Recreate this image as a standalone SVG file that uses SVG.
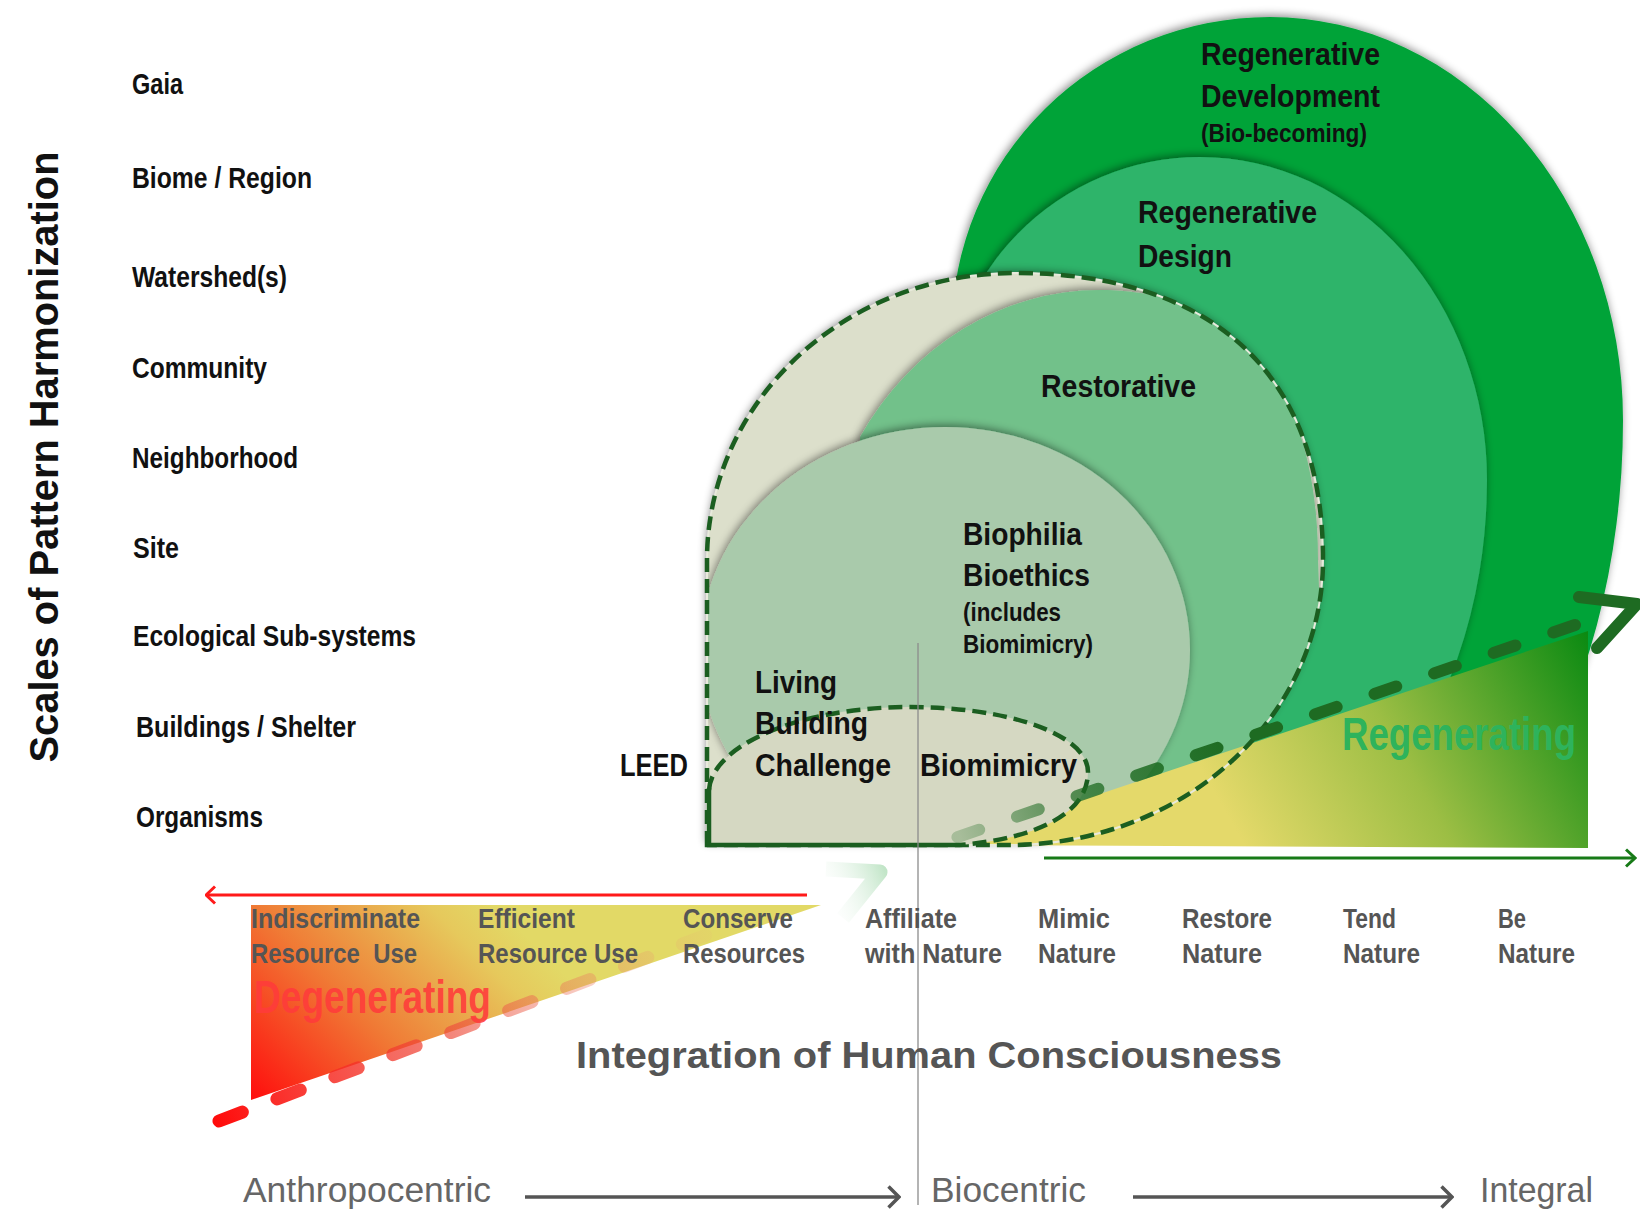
<svg xmlns="http://www.w3.org/2000/svg" width="1640" height="1210" viewBox="0 0 1640 1210">
<defs>
<style>
.lab{font-family:"Liberation Sans",Arial,sans-serif;font-weight:bold;fill:#111}
.row{font-size:30px}
.big{font-size:32px}
.sub{font-size:25px}
.axis{font-size:28px;fill:#555}
.dash{fill:none;stroke:#1b5e20;stroke-width:4.5;stroke-dasharray:14 7}
.solid{fill:none;stroke:#1b5e20;stroke-width:4.5}
.gray{font-family:"Liberation Sans",Arial,sans-serif;fill:#666;font-size:35px}
</style>
<filter id="sh" x="-10%" y="-10%" width="120%" height="120%">
<feDropShadow dx="-1" dy="-2" stdDeviation="4" flood-color="#000" flood-opacity="0.45"/>
</filter>
<clipPath id="dashClip">
<path d="M707,845 L707,560 A308,287 0 0 1 1015,273 C1212,273 1323,373 1323,560 A313,285 0 0 1 1010,845 Z"/>
</clipPath>
<linearGradient id="regenGrad" gradientUnits="userSpaceOnUse" x1="1230" y1="820" x2="1580" y2="620">
<stop offset="0" stop-color="#e4d96a"/>
<stop offset="0.45" stop-color="#9cbe44"/>
<stop offset="1" stop-color="#0b8a12"/>
</linearGradient>
<linearGradient id="degenGrad" gradientUnits="userSpaceOnUse" x1="251" y1="1100" x2="470" y2="880">
<stop offset="0" stop-color="#ff0d0d"/>
<stop offset="0.45" stop-color="#f07a35"/>
<stop offset="0.85" stop-color="#e6c95c"/>
<stop offset="1" stop-color="#e2d966"/>
</linearGradient>
<linearGradient id="gDash" gradientUnits="userSpaceOnUse" x1="960" y1="836" x2="1230" y2="743">
<stop offset="0" stop-color="#1e6b22" stop-opacity="0.25"/>
<stop offset="0.4" stop-color="#1e6b22" stop-opacity="0.7"/>
<stop offset="1" stop-color="#1e6b22" stop-opacity="1"/>
</linearGradient>
<linearGradient id="rDash" gradientUnits="userSpaceOnUse" x1="214" y1="1123" x2="720" y2="930">
<stop offset="0" stop-color="#ff0a0a" stop-opacity="1"/>
<stop offset="0.45" stop-color="#ee4a3a" stop-opacity="0.7"/>
<stop offset="1" stop-color="#e8a080" stop-opacity="0.05"/>
</linearGradient>
<linearGradient id="fadeG" gradientUnits="userSpaceOnUse" x1="815" y1="900" x2="885" y2="870">
<stop offset="0" stop-color="#ffffff" stop-opacity="0"/>
<stop offset="1" stop-color="#8fd09a" stop-opacity="0.55"/>
</linearGradient>
<marker id="arrGray" viewBox="0 0 14 24" refX="12" refY="12" markerWidth="14" markerHeight="24" markerUnits="userSpaceOnUse" orient="auto">
<path d="M1.5,1.5 L12,12 L1.5,22.5" fill="none" stroke="#555" stroke-width="3.5"/>
</marker>
<marker id="arrGreen" viewBox="0 0 12 20" refX="10.5" refY="10" markerWidth="12" markerHeight="20" markerUnits="userSpaceOnUse" orient="auto">
<path d="M1.5,1.5 L10.5,10 L1.5,18.5" fill="none" stroke="#177a17" stroke-width="3"/>
</marker>
<marker id="arrRed" viewBox="0 0 12 20" refX="10.5" refY="10" markerWidth="12" markerHeight="20" markerUnits="userSpaceOnUse" orient="auto">
<path d="M1.5,1.5 L10.5,10 L1.5,18.5" fill="none" stroke="#ff1a1a" stroke-width="3"/>
</marker>
</defs>

<rect width="1640" height="1210" fill="#ffffff"/>

<!-- vertical axis title -->
<g id="axis-title">
<text x="0" y="0" transform="translate(58,457) rotate(-90)" text-anchor="middle" font-family="Liberation Sans, Arial, sans-serif" font-weight="bold" font-size="40" fill="#111" textLength="611" lengthAdjust="spacingAndGlyphs">Scales of Pattern Harmonization</text>
</g>

<!-- scale labels -->
<g id="scales" class="lab row">
<text x="132" y="94" textLength="51" lengthAdjust="spacingAndGlyphs">Gaia</text>
<text x="132" y="188" textLength="180" lengthAdjust="spacingAndGlyphs">Biome / Region</text>
<text x="132" y="287" textLength="155" lengthAdjust="spacingAndGlyphs">Watershed(s)</text>
<text x="132" y="378" textLength="135" lengthAdjust="spacingAndGlyphs">Community</text>
<text x="132" y="468" textLength="166" lengthAdjust="spacingAndGlyphs">Neighborhood</text>
<text x="133" y="558" textLength="46" lengthAdjust="spacingAndGlyphs">Site</text>
<text x="133" y="646" textLength="283" lengthAdjust="spacingAndGlyphs">Ecological Sub-systems</text>
<text x="136" y="737" textLength="220" lengthAdjust="spacingAndGlyphs">Buildings / Shelter</text>
<text x="136" y="827" textLength="127" lengthAdjust="spacingAndGlyphs">Organisms</text>
</g>

<!-- Regenerative Development -->
<g id="regen-development">
<path filter="url(#sh)" fill="#00a339" d="M952,330 A318,313 0 0 1 1270,17 A353,403 0 0 1 1623,420 A353,542 0 0 1 1522,800 L1522,830 L952,830 Z"/>
</g>

<!-- Regenerative Design -->
<g id="regen-design">
<path filter="url(#sh)" fill="#2db46a" d="M942,420 A258,263 0 0 1 1200,157 A287,323 0 0 1 1487,480 A287,404 0 0 1 1375,800 L1375,830 L942,830 Z"/>
</g>

<!-- Dashed boundary region (beige) -->
<g id="boundary">
<path filter="url(#sh)" fill="#dcdfcb" d="M707,845 L707,560 A308,287 0 0 1 1015,273 C1212,273 1323,373 1323,560 A313,285 0 0 1 1010,845 Z"/>
</g>

<!-- Restorative -->
<g id="restorative" clip-path="url(#dashClip)">
<path filter="url(#sh)" fill="#72c18a" d="M860,437 A282,310 0 0 1 1100,290 C1232,290 1318,380 1318,560 L1330,900 L860,900 Z"/>
</g>

<!-- Biophilia -->
<g id="biophilia" clip-path="url(#dashClip)">
<ellipse filter="url(#sh)" cx="945" cy="650" rx="245" ry="223" fill="#a9caab"/>
</g>

<!-- Regenerating triangle -->
<g id="regenerating">
<polygon points="947,845 1588,631 1588,848" fill="url(#regenGrad)"/>
<text class="lab" x="1342" y="750" font-size="46" style="fill:#2eb35c" textLength="234" lengthAdjust="spacingAndGlyphs">Regenerating</text>
</g>

<!-- dashed outline of boundary -->
<g id="boundary-outline">
<path d="M707,845 L707,560 A308,287 0 0 1 1015,273 C1212,273 1323,373 1323,560 A313,285 0 0 1 1010,845 Z" fill="none" stroke="#e8eadc" stroke-width="2"/>
<path class="dash" d="M707,845 L707,560 A308,287 0 0 1 1015,273 C1212,273 1323,373 1323,560 A313,285 0 0 1 1010,845 Z"/>
</g>

<!-- LEED / Biomimicry region -->
<g id="leed-region">
<path fill="#d5d8c2" d="M709,845 L709,790 C712,745 800,707 910,707 C1010,707 1088,735 1088,772 C1088,812 1040,838 960,845 Z"/>
<path class="dash" d="M709,790 C712,745 800,707 910,707 C1010,707 1088,735 1088,772 C1088,812 1040,838 960,845"/>
<path class="solid" d="M960,845 L709,845 L709,788"/>
</g>

<!-- vertical divider -->
<g id="divider">
<line x1="918" y1="643" x2="918" y2="1205" stroke="#8c8c8c" stroke-width="1.3"/>
</g>

<!-- top labels -->
<g id="labels-top" class="lab">
<text class="big" x="1201" y="65" textLength="179" lengthAdjust="spacingAndGlyphs">Regenerative</text>
<text class="big" x="1201" y="107" textLength="179" lengthAdjust="spacingAndGlyphs">Development</text>
<text class="sub" x="1201" y="142" textLength="166" lengthAdjust="spacingAndGlyphs">(Bio-becoming)</text>
<text class="big" x="1138" y="223" textLength="179" lengthAdjust="spacingAndGlyphs">Regenerative</text>
<text class="big" x="1138" y="267" textLength="94" lengthAdjust="spacingAndGlyphs">Design</text>
<text class="big" x="1041" y="397" textLength="155" lengthAdjust="spacingAndGlyphs">Restorative</text>
<text class="big" x="963" y="545" textLength="119" lengthAdjust="spacingAndGlyphs">Biophilia</text>
<text class="big" x="963" y="586" textLength="127" lengthAdjust="spacingAndGlyphs">Bioethics</text>
<text class="sub" x="963" y="621" textLength="98" lengthAdjust="spacingAndGlyphs">(includes</text>
<text class="sub" x="963" y="653" textLength="130" lengthAdjust="spacingAndGlyphs">Biomimicry)</text>
<text class="big" x="755" y="693" textLength="82" lengthAdjust="spacingAndGlyphs">Living</text>
<text class="big" x="755" y="734" textLength="113" lengthAdjust="spacingAndGlyphs">Building</text>
<text class="big" x="755" y="776" textLength="136" lengthAdjust="spacingAndGlyphs">Challenge</text>
<text class="big" x="920" y="776" textLength="157" lengthAdjust="spacingAndGlyphs">Biomimicry</text>
<text class="big" x="620" y="776" textLength="68" lengthAdjust="spacingAndGlyphs">LEED</text>
</g>

<!-- Degenerating triangle -->
<g id="degenerating">
<polygon points="251,905 821,905 251,1100" fill="url(#degenGrad)"/>
</g>

<!-- connectors -->
<g id="connectors">
<line x1="1575" y1="625" x2="955" y2="838" stroke="url(#gDash)" stroke-width="12" stroke-linecap="round" stroke-dasharray="23 40"/>
<polyline points="1579,597 1637,604 1597,648" fill="none" stroke="#1e6b22" stroke-width="12" stroke-linecap="round" stroke-linejoin="round"/>
<line x1="1044" y1="858" x2="1635" y2="858" stroke="#177a17" stroke-width="3" marker-end="url(#arrGreen)"/>
<line x1="807" y1="895" x2="206" y2="895" stroke="#ff1a1a" stroke-width="3" marker-end="url(#arrRed)"/>
<line x1="219" y1="1121" x2="730" y2="926" stroke="url(#rDash)" stroke-width="13" stroke-linecap="round" stroke-dasharray="25 37"/>
<polyline points="826,869 880,872 843,918" fill="none" stroke="url(#fadeG)" stroke-width="15" stroke-linejoin="round"/>
<line x1="525" y1="1197" x2="899" y2="1197" stroke="#555" stroke-width="3.5" marker-end="url(#arrGray)"/>
<line x1="1133" y1="1197" x2="1452" y2="1197" stroke="#555" stroke-width="3.5" marker-end="url(#arrGray)"/>
</g>

<!-- axis labels -->
<g id="labels-axis" class="lab axis">
<text x="251" y="928" textLength="169" lengthAdjust="spacingAndGlyphs">Indiscriminate</text>
<text x="251" y="963" textLength="166" lengthAdjust="spacingAndGlyphs" xml:space="preserve">Resource  Use</text>
<text x="478" y="928" textLength="97" lengthAdjust="spacingAndGlyphs">Efficient</text>
<text x="478" y="963" textLength="160" lengthAdjust="spacingAndGlyphs">Resource Use</text>
<text x="683" y="928" textLength="110" lengthAdjust="spacingAndGlyphs">Conserve</text>
<text x="683" y="963" textLength="122" lengthAdjust="spacingAndGlyphs">Resources</text>
<text x="865" y="928" textLength="92" lengthAdjust="spacingAndGlyphs">Affiliate</text>
<text x="865" y="963" textLength="137" lengthAdjust="spacingAndGlyphs">with Nature</text>
<text x="1038" y="928" textLength="72" lengthAdjust="spacingAndGlyphs">Mimic</text>
<text x="1038" y="963" textLength="78" lengthAdjust="spacingAndGlyphs">Nature</text>
<text x="1182" y="928" textLength="90" lengthAdjust="spacingAndGlyphs">Restore</text>
<text x="1182" y="963" textLength="80" lengthAdjust="spacingAndGlyphs">Nature</text>
<text x="1343" y="928" textLength="53" lengthAdjust="spacingAndGlyphs">Tend</text>
<text x="1343" y="963" textLength="77" lengthAdjust="spacingAndGlyphs">Nature</text>
<text x="1498" y="928" textLength="28" lengthAdjust="spacingAndGlyphs">Be</text>
<text x="1498" y="963" textLength="77" lengthAdjust="spacingAndGlyphs">Nature</text>
<text x="254" y="1013" font-size="46" style="fill:#ff3b3b;fill-opacity:0.9" textLength="237" lengthAdjust="spacingAndGlyphs">Degenerating</text>
</g>

<g id="integration">
<text x="576" y="1068" font-family="Liberation Sans, Arial, sans-serif" font-weight="bold" font-size="37" fill="#555" textLength="706" lengthAdjust="spacingAndGlyphs">Integration of Human Consciousness</text>
</g>

<g id="worldviews" class="gray">
<text x="243" y="1202" textLength="248" lengthAdjust="spacingAndGlyphs">Anthropocentric</text>
<text x="931" y="1202" textLength="155" lengthAdjust="spacingAndGlyphs">Biocentric</text>
<text x="1480" y="1202" textLength="113" lengthAdjust="spacingAndGlyphs">Integral</text>
</g>
</svg>
